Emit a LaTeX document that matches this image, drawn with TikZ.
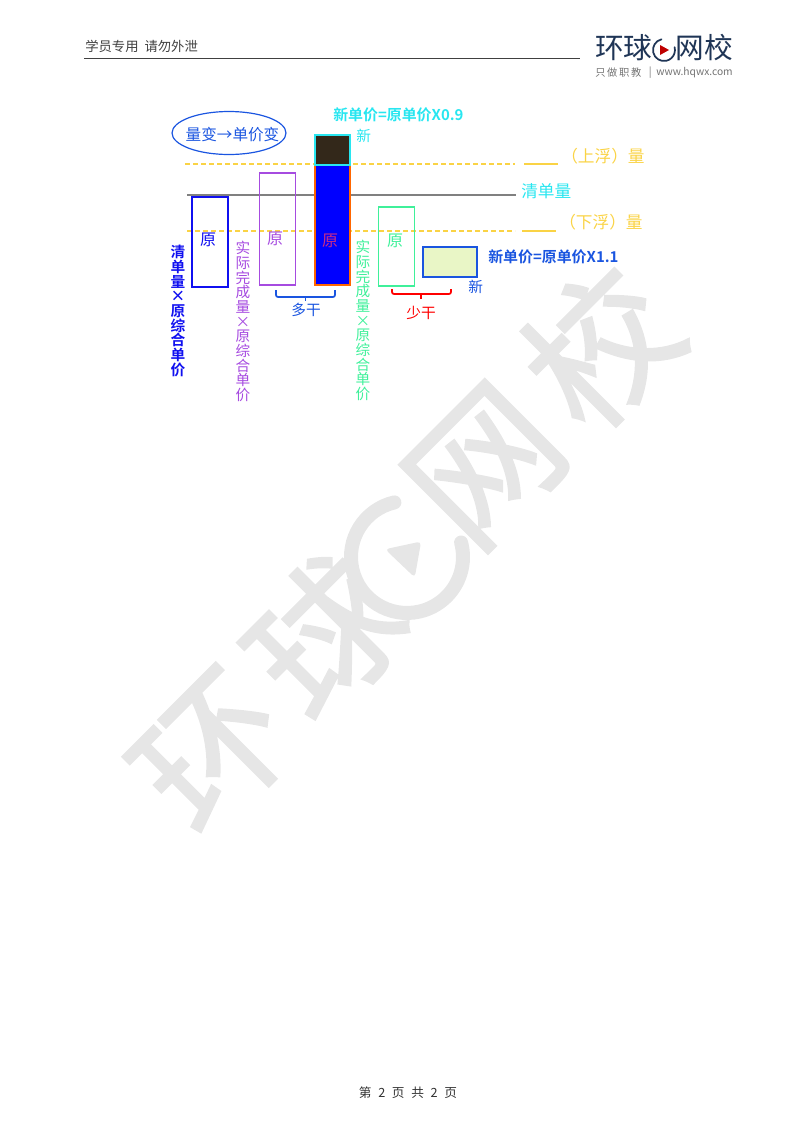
\documentclass[tikz,border=0pt]{standalone}
\usepackage{fontspec}
\setmainfont{Noto Sans CJK SC}[BoldFont={Noto Sans CJK SC Bold}]
\newfontfamily\wmfont{Noto Sans CJK SC}[FakeBold=1.6]
\usepackage{xcolor}
\usetikzlibrary{arrows.meta,positioning,shapes.geometric}
\definecolor{hqnavy}{HTML}{1F3556}
\definecolor{bluebox}{HTML}{1010F0}
\definecolor{purpbox}{HTML}{A64BE0}
\definecolor{greenbox}{HTML}{3FF09A}
\definecolor{cyanbox}{HTML}{28E6F0}
\definecolor{goldline}{HTML}{FAD345}
\definecolor{labelblue}{HTML}{1A55E0}
\definecolor{darkbar}{HTML}{33281A}
\definecolor{paleleaf}{HTML}{E9F6C6}
\definecolor{wmgray}{HTML}{E6E6E6}
\tikzset{
  % bars
  barbox/.style={draw,line width=1.5pt,inner sep=0pt,anchor=north west},
  % stacked labels
  stack/.style={align=center,anchor=north,inner sep=0pt,font=\fontsize{11}{11}\selectfont},
  txt/.style={inner sep=0pt,font=\fontsize{10.5}{12}\selectfont},
  guide/.style={goldline,line width=0.9pt},
  bracket/.style={line width=1.3pt,rounded corners=1.5pt},
  wmchar/.style={transform shape,inner sep=0pt,text=wmgray,font=\fontsize{110}{110}\wmfont},
}
\begin{document}
\begin{tikzpicture}[x=0.75pt,y=-0.75pt]
\useasboundingbox (0,0) rectangle (800,1132);
%% ===== watermark =====
\draw[wmgray,line width=10.5pt,line cap=round] (394.4,502.4) arc[start angle=-103,end angle=-375,radius=56];
\begin{scope}[shift={(407,557)},rotate=45]
\node[wmchar] (wmA) at (-275,2) {环};
\node[wmchar] (wmB) at (-114,-2) {球};
\node[wmchar] (wmD) at (120,-8) {网};
\node[wmchar] (wmE) at (285,-12) {校};
\fill[wmgray,rounded corners=3pt] (-10,-21) -- (21,-1) -- (-9,20) -- cycle;
\end{scope}

%% ===== header =====
\node[txt,anchor=west,text=black!75,font=\fontsize{10}{12}\selectfont] (hdr) at (85,46) {学员专用\ \ 请勿外泄};
\coordinate (hlA) at (84,58.5); \coordinate (hlB) at (580,58.5);
\draw[black!75,line width=0.7pt] (hlA) -- (hlB);
\node[txt,anchor=west,text=hqnavy,font=\fontsize{21.5}{24}\selectfont] (logoA) at (595,48) {环球};
\draw[hqnavy,line width=1.3pt,line cap=round] (661.5,39.3) arc[start angle=-103,end angle=-375,radius=11];
\fill[red!75!black] (660,45) -- (669,50) -- (660,55) -- cycle;
\node[txt,anchor=east,text=hqnavy,font=\fontsize{21.5}{24}\selectfont] (logoB) at (733,48) {网校};
\node[txt,anchor=west,text=black!55,font=\fontsize{7.7}{9}\selectfont] (logoS) at (595,73) {只\,做\,职\,教};
\node[txt,anchor=east,text=black!55,font=\fontsize{7.7}{9}\selectfont] (logoU) at (733,73) {|\ \ www.hqwx.com};

%% ===== guides =====
\coordinate (upA) at (185,164); \coordinate (upB) at (515,164);
\coordinate (upC) at (524,164); \coordinate (upD) at (558,164);
\coordinate (qtyA) at (187,195); \coordinate (qtyB) at (516,195);
\coordinate (dnA) at (187,231); \coordinate (dnB) at (515,231);
\coordinate (dnC) at (522,231); \coordinate (dnD) at (556,231);
\draw[gray,line width=0.9pt] (qtyA) -- (qtyB);
\draw[guide,dash pattern=on 4pt off 2pt] (upA) -- (upB);
\draw[guide] (upC) -- (upD);
\draw[guide,dash pattern=on 4pt off 2pt] (dnA) -- (dnB);
\draw[guide] (dnC) -- (dnD);

%% ===== bars =====
\node[barbox,draw=bluebox,minimum width=27pt,minimum height=67.5pt] (barA) at (190.5,196) {};
\node[barbox,draw=purpbox,line width=1.2pt,minimum width=27pt,minimum height=84pt] (barB) at (258.5,172) {};
\node[barbox,draw=orange!80!red,fill=blue,minimum width=26.25pt,minimum height=90pt] (barC) at (313.5,164) {};
\node[barbox,draw=cyanbox,fill=darkbar,minimum width=26.25pt,minimum height=22.5pt] (barCn) at (313.5,134) {};
\node[barbox,draw=greenbox,line width=1.2pt,minimum width=27pt,minimum height=59.25pt] (barD) at (377.5,206) {};
\node[barbox,draw=labelblue,fill=paleleaf,minimum width=40.5pt,minimum height=22.5pt] (barE) at (422,246) {};

\node[txt,text=bluebox,font=\fontsize{12}{12}\selectfont] (lbA) at (208,240) {原};
\node[txt,text=purpbox,font=\fontsize{12}{12}\selectfont] (lbB) at (275,239) {原};
\node[txt,text=purpbox!60!red,font=\fontsize{12}{12}\selectfont] (lbC) at (330,241) {原};
\node[txt,text=greenbox,font=\fontsize{12}{12}\selectfont] (lbD) at (395,241) {原};

%% ===== top labels =====
\node[draw=labelblue,line width=0.9pt,ellipse,minimum width=85.5pt,minimum height=32.25pt,inner sep=0pt] (oval) at (229,133) {};
\node[txt,text=labelblue,font=\fontsize{11.7}{13}\selectfont] (ovalT) at (232.5,135) {量变→单价变};
\node[txt,text=cyanbox,font=\fontsize{11.2}{13}\selectfont\bfseries,anchor=west] (newUp) at (333,115) {新单价=原单价X0.9};
\node[txt,text=cyanbox,anchor=west,font=\fontsize{11}{13}\selectfont] (newUpS) at (356,136) {新};
\node[txt,text=goldline,anchor=west,font=\fontsize{12.5}{14}\selectfont] (upT) at (561,156) {（上浮）量};
\node[txt,text=cyanbox,anchor=west,font=\fontsize{12.5}{14}\selectfont] (qtyT) at (521,191) {清单量};
\node[txt,text=goldline,anchor=west,font=\fontsize{12.5}{14}\selectfont] (dnT) at (559,222) {（下浮）量};
\node[txt,text=labelblue,font=\fontsize{11.2}{13}\selectfont\bfseries,anchor=west] (newDn) at (488,257) {新单价=原单价X1.1};
\node[txt,text=labelblue,anchor=west,font=\fontsize{11}{13}\selectfont] (newDnS) at (468,287) {新};

%% ===== vertical labels =====
\node[stack,text=bluebox,font=\fontsize{11}{11}\selectfont\bfseries] (vtA) at (178,245) {清\\单\\量\\×\\原\\综\\合\\单\\价};
\node[stack,text=purpbox] (vtB) at (243,241) {实\\际\\完\\成\\量\\×\\原\\综\\合\\单\\价};
\node[stack,text=greenbox] (vtD) at (363,240) {实\\际\\完\\成\\量\\×\\原\\综\\合\\单\\价};

%% ===== brackets =====
\coordinate (brAa) at (276,290); \coordinate (brAb) at (335,290);
\coordinate (brAc) at (305.5,297); \coordinate (brAd) at (305.5,301);
\draw[bracket,labelblue] (brAa) |- (brAc) -| (brAb);
\draw[bracket,labelblue] (brAc) -- (brAd);
\node[txt,text=labelblue,font=\fontsize{11}{13}\selectfont] (brAt) at (306,310) {多干};
\coordinate (brBa) at (392,289); \coordinate (brBb) at (451,289);
\coordinate (brBc) at (421,294); \coordinate (brBd) at (421,299);
\draw[bracket,red] (brBa) |- (brBc) -| (brBb);
\draw[bracket,red] (brBc) -- (brBd);
\node[txt,text=red,font=\fontsize{11}{13}\selectfont] (brBt) at (421,313) {少干};

%% ===== footer =====
\node[txt,text=black!80,font=\fontsize{9.5}{11}\selectfont] (ftr) at (408,1093) {第\hspace{5pt}2\hspace{5pt}页\hspace{5pt}共\hspace{5pt}2\hspace{5pt}页};
\end{tikzpicture}
\end{document}
